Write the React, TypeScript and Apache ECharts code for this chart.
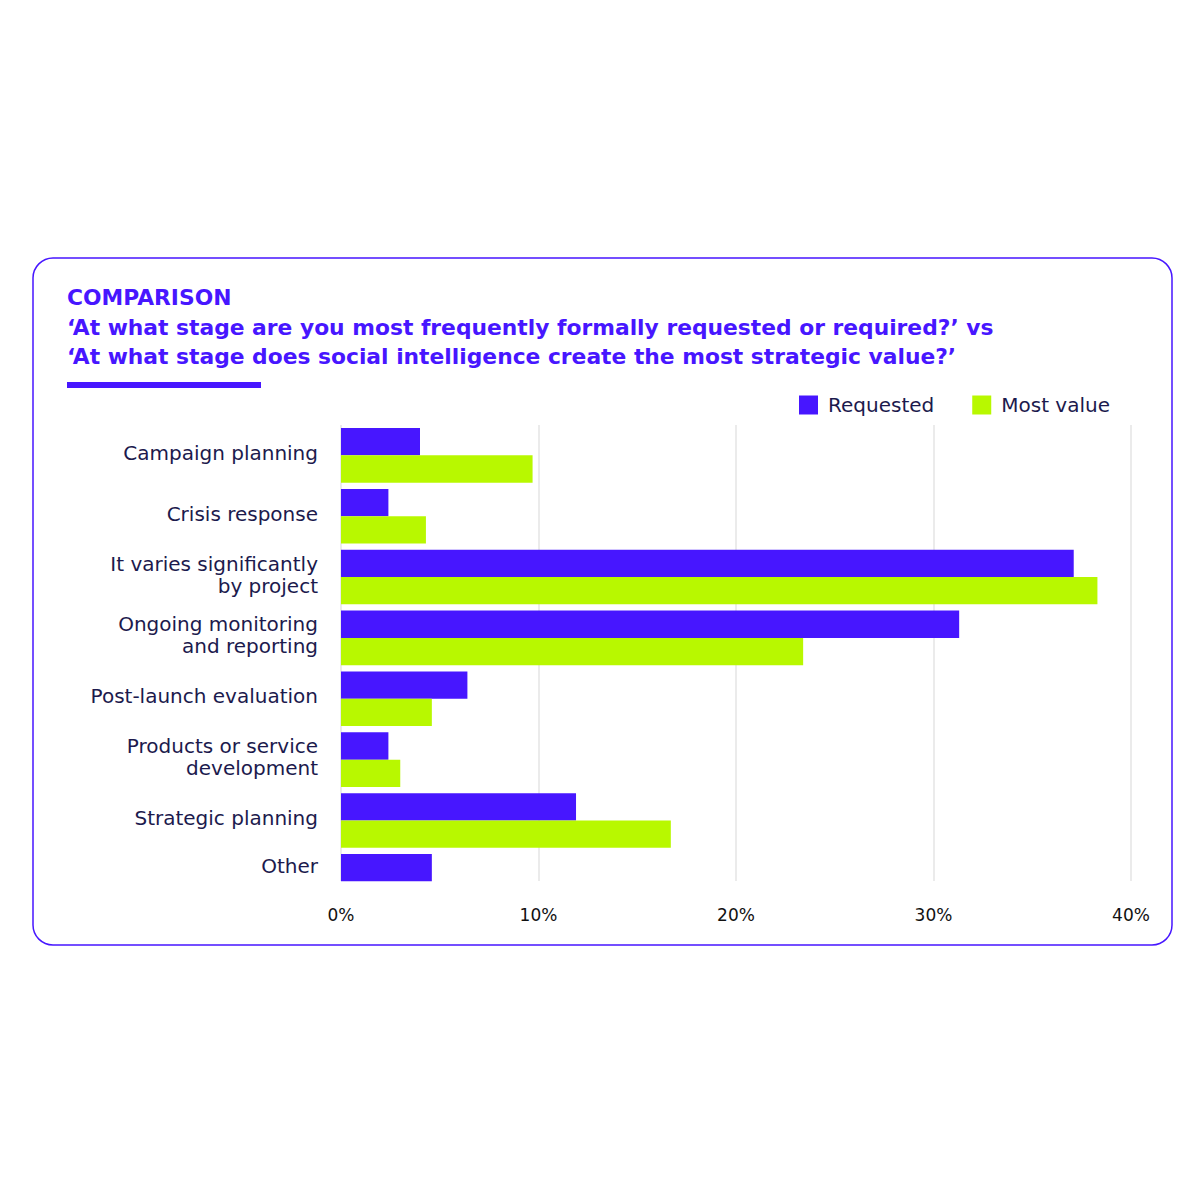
import React, { useEffect, useRef } from "react";
import * as echarts from "echarts";

const categories = [
  "Campaign planning",
  "Crisis response",
  "It varies significantly\nby project",
  "Ongoing monitoring\nand reporting",
  "Post-launch evaluation",
  "Products or service\ndevelopment",
  "Strategic planning",
  "Other",
];
const requested = [4.0, 2.4, 37.1, 31.3, 6.4, 2.4, 11.9, 4.6];
const mostValue: (number | null)[] = [9.7, 4.3, 38.3, 23.4, 4.6, 3.0, 16.7, null];
const seriesNames = ["Requested", "Most value"];
const axisMin = 0;
const axisMax = 40;
const axisStep = 10;
const heading = "COMPARISON";
const questionLines = [
  "\u2018At what stage are you most frequently formally requested or required?\u2019 vs",
  "\u2018At what stage does social intelligence create the most strategic value?\u2019",
];

const PURPLE = "#4716ff";
const LIME = "#b8f800";
const NAVY = "#1c1a4d";
const FONT = "'DejaVu Sans', sans-serif";

export default function App() {
  const ref = useRef<HTMLDivElement>(null);
  useEffect(() => {
    if (!ref.current) return;
    const chart = echarts.init(ref.current, null, { renderer: "svg" });
    const gridLeft = 341;
    const gridRight = 1200 - 1131;
    const gridTop = 424.9;
    const slot = 60.86;
    const singleBar = new Set(["Other"]);
    chart.setOption({
      animation: false,
      backgroundColor: "#ffffff",
      textStyle: { fontFamily: FONT },
      legend: {
        data: seriesNames,
        left: 799,
        top: 395,
        padding: 0,
        icon: "rect",
        itemWidth: 19,
        itemHeight: 19,
        itemGap: 38,
        textStyle: {
          fontFamily: FONT,
          fontSize: 20,
          color: NAVY,
          padding: [0, 0, 0, 5],
        },
      },
      grid: [
        {
          left: gridLeft,
          right: gridRight,
          top: gridTop,
          height: slot * categories.length,
        },
        {
          left: gridLeft,
          right: gridRight,
          top: gridTop,
          height: 881 - gridTop,
        },
      ],
      xAxis: [
        {
          gridIndex: 0,
          type: "value",
          min: axisMin,
          max: axisMax,
          interval: axisStep,
          show: false,
        },
        {
          gridIndex: 1,
          type: "value",
          min: axisMin,
          max: axisMax,
          interval: axisStep,
          axisLine: { show: false },
          axisTick: { show: false },
          splitLine: { show: true, lineStyle: { color: "#e4e4e4", width: 1.5 } },
          axisLabel: {
            margin: 25,
            formatter: "{value}%",
            fontFamily: FONT,
            fontSize: 17,
            color: "#111111",
          },
        },
      ],
      yAxis: [
        {
          gridIndex: 0,
          type: "category",
          data: categories,
          inverse: true,
          axisLine: { show: false },
          axisTick: { show: false },
          splitLine: { show: false },
          axisLabel: {
            margin: 23,
            fontFamily: FONT,
            fontSize: 20,
            lineHeight: 22,
            color: NAVY,
            align: "right",
            formatter: (v: string) =>
              singleBar.has(v) ? `{t|${v}}\n{s|}` : `{t|${v.split("\n").join("}\n{t|")}}\n{g|}`,
            rich: {
              t: { fontFamily: FONT, fontSize: 20, lineHeight: 22, color: NAVY },
              s: { lineHeight: 30 },
              g: { lineHeight: 5 },
            },
          },
        },
        {
          gridIndex: 1,
          type: "category",
          data: categories,
          inverse: true,
          show: false,
        },
      ],
      series: [
        {
          name: seriesNames[0],
          type: "bar",
          xAxisIndex: 0,
          yAxisIndex: 0,
          data: requested,
          itemStyle: { color: PURPLE },
          barGap: "0%",
          barCategoryGap: "10.3%",
          z: 3,
        },
        {
          name: seriesNames[1],
          type: "bar",
          xAxisIndex: 0,
          yAxisIndex: 0,
          data: mostValue,
          itemStyle: { color: LIME },
          barGap: "0%",
          barCategoryGap: "10.3%",
          z: 3,
        },
      ],
      graphic: [
        {
          type: "rect",
          shape: { x: 33, y: 258, width: 1139, height: 687, r: 20 },
          style: { fill: "none", stroke: PURPLE, lineWidth: 1.5 },
          silent: true,
        },
        {
          type: "text",
          x: 67,
          y: 297,
          style: {
            text: heading,
            fill: PURPLE,
            font: `bold 21.8px ${FONT}`,
            verticalAlign: "middle",
          },
        },
        {
          type: "text",
          x: 67,
          y: 327,
          style: {
            text: questionLines[0],
            fill: PURPLE,
            font: `bold 21.8px ${FONT}`,
            verticalAlign: "middle",
          },
        },
        {
          type: "text",
          x: 67,
          y: 356,
          style: {
            text: questionLines[1],
            fill: PURPLE,
            font: `bold 21.8px ${FONT}`,
            verticalAlign: "middle",
          },
        },
        {
          type: "rect",
          shape: { x: 67, y: 382, width: 194, height: 6 },
          style: { fill: PURPLE },
        },
      ],
    });
    return () => chart.dispose();
  }, []);
  return (
    <div
      ref={ref}
      style={{ position: "absolute", left: 0, top: 0, width: 1200, height: 1200 }}
    />
  );
}
